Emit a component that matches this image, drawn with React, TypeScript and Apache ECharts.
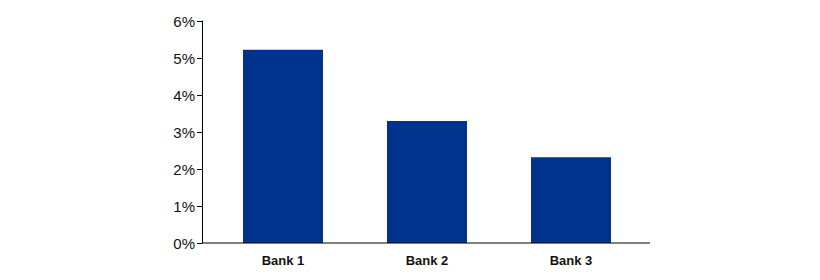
import React, { useEffect, useRef } from "react";
import * as echarts from "echarts";

const categories = ["Bank 1", "Bank 2", "Bank 3"];
const values = [5.22, 3.3, 2.32];
const yTicks = [0, 1, 2, 3, 4, 5, 6];

export default function App() {
  const ref = useRef<HTMLDivElement>(null);
  useEffect(() => {
    if (!ref.current) return;
    const chart = echarts.init(ref.current, null, { renderer: "svg" });
    chart.setOption({
      animation: false,
      grid: { left: 211, right: 177, top: 21, bottom: 37 },
      xAxis: {
        type: "category",
        data: categories,
        axisLine: { show: false },
        axisTick: { show: false },
        axisLabel: {
          color: "#111",
          fontFamily: "Liberation Sans, Arial, sans-serif",
          fontWeight: "bold",
          fontSize: 13,
          margin: 11,
        },
      },
      yAxis: {
        type: "value",
        min: yTicks[0],
        max: yTicks[yTicks.length - 1],
        interval: 1,
        offset: 9,
        splitLine: { show: false },
        axisLine: { show: true, lineStyle: { color: "#000", width: 1 } },
        axisTick: { show: true, inside: false, length: 5, lineStyle: { color: "#000" } },
        axisLabel: {
          color: "#111",
          fontFamily: "Liberation Sans, Arial, sans-serif",
          fontSize: 15,
          margin: 7,
          formatter: (v: number) => `${v}%`,
        },
      },
      graphic: [
        {
          type: "line",
          shape: { x1: 202, y1: 243, x2: 650, y2: 243 },
          style: { stroke: "#000", lineWidth: 1 },
          z: 10,
        },
      ],
      series: [
        {
          type: "bar",
          data: values,
          barWidth: 80,
          itemStyle: { color: "#00338D" },
        },
      ],
    });
    return () => chart.dispose();
  }, []);
  return <div ref={ref} style={{ width: 820, height: 280, position: "absolute", left: 0, top: 0 }} />;
}
